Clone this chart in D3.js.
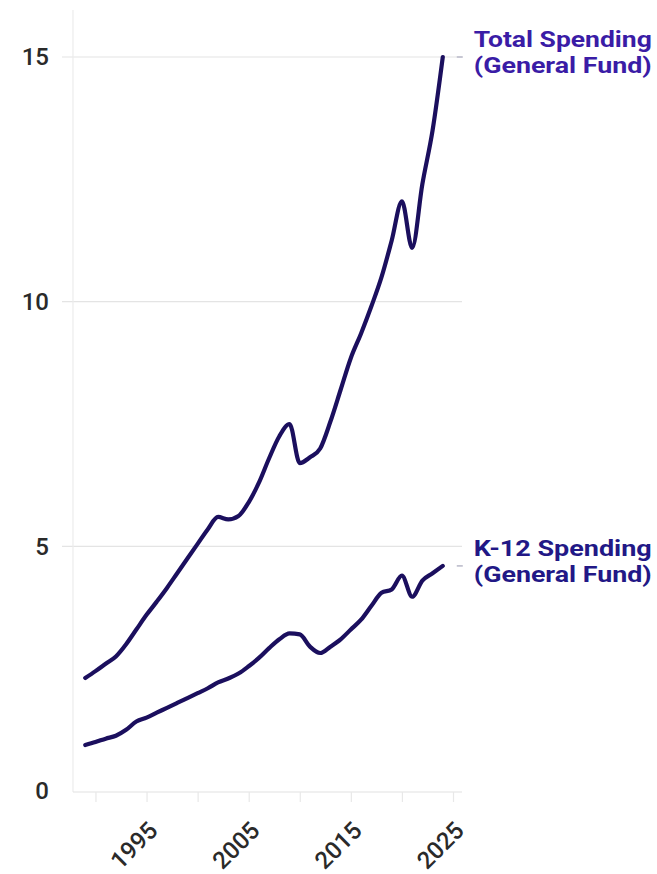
<!DOCTYPE html>
<html>
<head>
<meta charset="utf-8">
<script src="https://cdn.jsdelivr.net/npm/d3@7/dist/d3.min.js"></script>
<style>
  html, body { margin: 0; padding: 0; background: #ffffff; }
  svg { display: block; }
</style>
</head>
<body>
<svg id="chart" width="657" height="874"></svg>
<script>
// Fiscal years covered by both series
const years = [1989, 1990, 1991, 1992, 1993, 1994, 1995, 1996, 1997, 1998, 1999,
  2000, 2001, 2002, 2003, 2004, 2005, 2006, 2007, 2008, 2009,
  2010, 2011, 2012, 2013, 2014, 2015, 2016, 2017, 2018, 2019,
  2020, 2021, 2022, 2023, 2024];

// General Fund spending, billions of dollars
const totalSpending = [2.31, 2.45, 2.6, 2.75, 3.0, 3.3, 3.6, 3.87, 4.15, 4.45, 4.75,
  5.05, 5.35, 5.6, 5.55, 5.62, 5.9, 6.3, 6.8, 7.25, 7.5,
  6.7, 6.82, 7.0, 7.55, 8.2, 8.85, 9.35, 9.9, 10.5, 11.25,
  12.05, 11.1, 12.4, 13.5, 15.0];

const k12Spending = [0.94, 1.0, 1.07, 1.13, 1.25, 1.42, 1.5, 1.6, 1.7, 1.8, 1.9,
  2.0, 2.1, 2.22, 2.3, 2.4, 2.55, 2.72, 2.92, 3.1, 3.22,
  3.2, 2.95, 2.82, 2.95, 3.1, 3.3, 3.5, 3.78, 4.05, 4.12,
  4.4, 3.97, 4.3, 4.45, 4.6];

const seriesLabels = [
  ["Total Spending", "(General Fund)"],
  ["K-12 Spending", "(General Fund)"]
];

const yTicks = [0, 5, 10, 15];
const xTicks = [1990, 1995, 2000, 2005, 2010, 2015, 2020, 2025];
const xTickLabels = ["1995", "2005", "2015", "2025"];

const svg = d3.select("#chart");

const x = d3.scaleLinear().domain([1987.8, 2025]).range([73, 453]);
const y = d3.scaleLinear().domain([0, 15]).range([791, 57]);

const gridColor = "#e4e4e4";
const textColor = "#2a2a2a";
const lineColor = "#1b0f5e";

// horizontal gridlines
svg.append("g")
  .selectAll("line")
  .data(yTicks.filter(d => d > 0))
  .join("line")
  .attr("x1", 62).attr("x2", 462)
  .attr("y1", d => y(d)).attr("y2", d => y(d))
  .attr("stroke", gridColor).attr("stroke-width", 1.2);

// vertical axis rule
svg.append("line")
  .attr("x1", 73).attr("x2", 73)
  .attr("y1", 10).attr("y2", 792)
  .attr("stroke", "#ececec").attr("stroke-width", 1.2);

// y axis labels
const yAxis = d3.axisLeft(y).tickValues(yTicks).tickSize(0).tickPadding(0);
const gy = svg.append("g").attr("transform", "translate(49,0)").call(yAxis);
gy.select(".domain").remove();
gy.selectAll("text")
  .attr("fill", textColor)
  .style("font-family", "Roboto, 'Open Sans', sans-serif")
  .style("font-size", "24px")
  .style("font-weight", "500");

// x axis
const xAxis = d3.axisBottom(x).tickValues(xTicks).tickSize(10)
  .tickFormat(d => xTickLabels.includes(String(d)) ? String(d) : "");
const gx = svg.append("g").attr("transform", `translate(0,${y(0) + 1})`).call(xAxis);
gx.select(".domain").attr("d", `M${x.range()[0]},0H462`).attr("stroke", "#e2e2e2").attr("stroke-width", 1.2);
gx.selectAll(".tick line").attr("stroke", "#e8e8e8").attr("stroke-width", 1.2);
gx.selectAll("text")
  .attr("fill", textColor)
  .style("font-family", "Roboto, 'Open Sans', sans-serif")
  .style("font-size", "24px")
  .style("font-weight", "500")
  .attr("text-anchor", "end")
  .attr("transform", "translate(12,40) rotate(-45)")
  .attr("y", 0).attr("dy", 0);

// series lines
const line = d3.line()
  .x((d, i) => x(years[i]))
  .y(d => y(d))
  .curve(d3.curveMonotoneX);

const series = [
  { values: totalSpending, labels: seriesLabels[0], color: "#3a1ca6" },
  { values: k12Spending, labels: seriesLabels[1], color: "#221886" }
];

series.forEach(s => {
  svg.append("path")
    .datum(s.values)
    .attr("d", line)
    .attr("fill", "none")
    .attr("stroke", lineColor)
    .attr("stroke-width", 4.2)
    .attr("stroke-linecap", "round")
    .attr("stroke-linejoin", "round");

  const lastX = x(years[years.length - 1]);
  const lastY = y(s.values[s.values.length - 1]);

  // short leader dash toward the label
  svg.append("line")
    .attr("x1", lastX + 14).attr("x2", lastX + 20)
    .attr("y1", lastY).attr("y2", lastY)
    .attr("stroke", "#b8b8c8").attr("stroke-width", 1.5);

  // two-line label, one text element per line
  s.labels.forEach((txt, k) => {
    svg.append("text")
      .attr("x", lastX + 31)
      .attr("y", lastY - 10 + k * 26)
      .attr("textLength", 178).attr("lengthAdjust", "spacingAndGlyphs")
      .attr("fill", s.color)
      .style("font-family", "Roboto, 'Open Sans', sans-serif")
      .style("font-size", "22px")
      .style("font-weight", "700")
      .text(txt);
  });
});
</script>
</body>
</html>
